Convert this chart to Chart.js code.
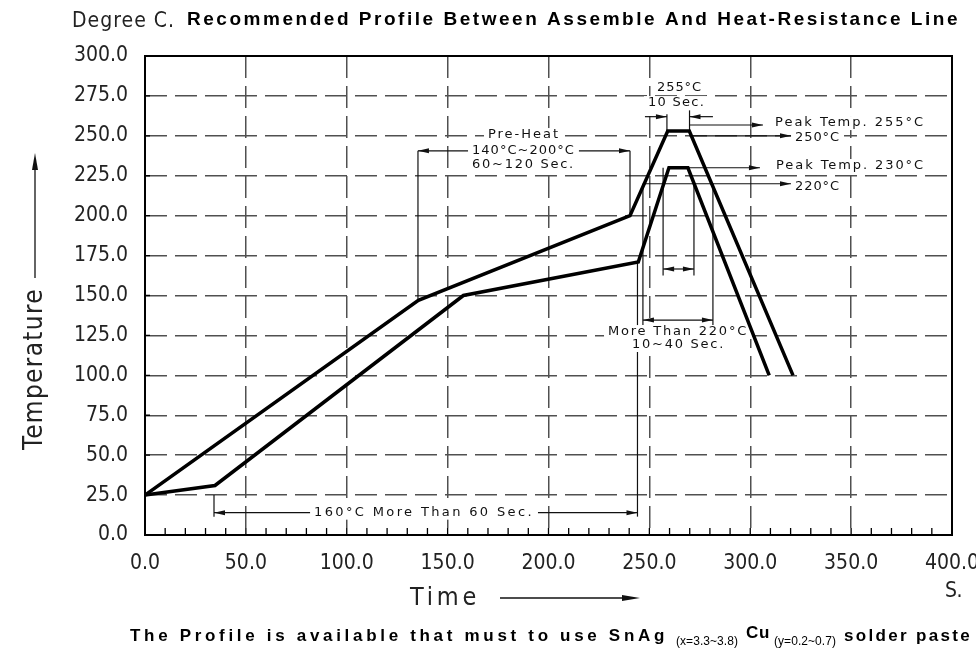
<!DOCTYPE html>
<html lang="en">
<head>
<meta charset="UTF-8">
<title>Recommended Reflow Profile</title>
<style>
    body { margin: 0; background: #fff; }
    #wrap { width: 976px; height: 650px; }
</style>
</head>
<body>
<div id="wrap"><canvas id="profileChart" width="976" height="650"></canvas></div>

<script src="https://cdn.jsdelivr.net/npm/chart.js"></script>
<script>
    // curve data (seconds, degrees C)
    const upperTime = [0, 135.5, 240.4, 259.1, 269.8, 321.2];
    const upperTemp = [25, 147, 200, 253, 253, 100];
    const lowerTime = [0, 34.7, 157.8, 244.5, 259.7, 269.1, 309.4];
    const lowerTemp = [25, 31, 150, 171, 230, 230, 100];

    const timeTicks = [0, 50, 100, 150, 200, 250, 300, 350, 400];
    const timeTickLabels = ['0.0', '50.0', '100.0', '150.0', '200.0', '250.0', '300.0', '350.0', '400.0'];
    const tempTicks = [0, 25, 50, 75, 100, 125, 150, 175, 200, 225, 250, 275, 300];
    const tempTickLabels = ['0.0', '25.0', '50.0', '75.0', '100.0', '125.0', '150.0', '175.0',
        '200.0', '225.0', '250.0', '275.0', '300.0'];

    // thin bracket lines [x1, y1, x2, y2] in data units
    const leaderLines = [
        [135.3, 147, 135.3, 240.6], [240.4, 200, 240.4, 240.6],
        [34.2, 25, 34.2, 11.5], [244.1, 171, 244.1, 11.5],
        [258.7, 253, 258.7, 263.5], [269.9, 253, 269.9, 266],
        [256.8, 230, 256.8, 162.5], [272.1, 220, 272.1, 162.5],
        [246.8, 220, 246.8, 131.5], [281.5, 220, 281.5, 131.5]
    ];
    // dimension arrows [from, to, temp, heads]
    const arrowLines = [
        [135.3, 240.4, 240.6, 'both'],
        [34.2, 244.1, 14, 'both'],
        [246.8, 281.5, 134.6, 'both'],
        [256.8, 272.1, 166.6, 'both'],
        [247.8, 258.7, 262, 'end'],
        [281.5, 269.9, 262, 'end'],
        [269.9, 306.3, 256.8, 'end'],
        [269.9, 320.2, 250, 'end'],
        [269.1, 304.8, 230, 'end'],
        [246.8, 320.2, 220, 'end']
    ];
    // notes [text, left, right, temp]
    const notes = [
        ['Pre-Heat', 170.0, 205.7, 250.5],
        ['140°C~200°C', 162.1, 213.1, 240.6],
        ['60~120 Sec.', 162.1, 213.1, 231.7],
        ['255°C', 253.8, 276.1, 279.9],
        ['10 Sec.', 249.3, 277.6, 270.5],
        ['Peak Temp. 255°C', 312.3, 386.6, 258.0],
        ['250°C', 322.2, 344.5, 248.6],
        ['Peak Temp. 230°C', 312.8, 386.6, 231.1],
        ['220°C', 322.2, 344.5, 218.5],
        ['More Than 220°C', 229.5, 298.9, 127.1],
        ['10~40 Sec.', 241.4, 287.5, 119.0],
        ['160°C More Than 60 Sec.', 83.8, 192.8, 14]
    ];

    const condensed = '"DejaVu Sans Condensed", "Liberation Sans Narrow", sans-serif';

    // draw text spread to a given width
    function fitText(ctx, str, x, y, w, font) {
        ctx.font = font;
        ctx.letterSpacing = '0px';
        const m = ctx.measureText(str).width;
        ctx.letterSpacing = ((w - m) / str.length) + 'px';
        ctx.textAlign = 'left';
        ctx.textBaseline = 'middle';
        ctx.fillText(str, x, y);
        ctx.letterSpacing = '0px';
    }

    function arrowHead(ctx, x, y, dir, len, half) {
        ctx.beginPath();
        ctx.moveTo(x, y);
        ctx.lineTo(x - dir * len, y - half);
        ctx.lineTo(x - dir * len, y + half);
        ctx.closePath();
        ctx.fill();
    }

    const drawingPlugin = {
        id: 'drawing',
        beforeDatasetsDraw(chart) {
            const ctx = chart.ctx;
            const X = v => chart.scales.x.getPixelForValue(v);
            const Y = v => chart.scales.y.getPixelForValue(v);
            ctx.save();
            ctx.strokeStyle = '#111';
            ctx.fillStyle = '#111';
            ctx.lineWidth = 1.2;
            leaderLines.forEach(([x1, y1, x2, y2]) => {
                ctx.beginPath();
                ctx.moveTo(X(x1), Y(y1));
                ctx.lineTo(X(x2), Y(y2));
                ctx.stroke();
            });
            arrowLines.forEach(([a, b, t, heads]) => {
                const xa = X(a), xb = X(b), yy = Y(t);
                ctx.beginPath();
                ctx.moveTo(xa, yy);
                ctx.lineTo(xb, yy);
                ctx.stroke();
                arrowHead(ctx, xb, yy, Math.sign(xb - xa), 11, 2.5);
                if (heads === 'both') arrowHead(ctx, xa, yy, Math.sign(xa - xb), 11, 2.5);
            });
            notes.forEach(([txt, l, r, t]) => {
                const xl = X(l), xr = X(r), yc = Y(t);
                ctx.fillStyle = '#fff';
                ctx.fillRect(xl - 4, yc - 7, xr - xl + 8, 14);
                ctx.fillStyle = '#111';
                fitText(ctx, txt, xl, yc, xr - xl, '13px "DejaVu Sans", sans-serif');
            });
            ctx.restore();
        },
        afterDraw(chart) {
            const ctx = chart.ctx;
            const a = chart.chartArea;
            const X = v => chart.scales.x.getPixelForValue(v);
            const Y = v => chart.scales.y.getPixelForValue(v);
            ctx.save();
            // frame
            ctx.strokeStyle = '#000';
            ctx.lineWidth = 2;
            ctx.strokeRect(a.left, a.top, a.right - a.left, a.bottom - a.top);
            // minor ticks
            ctx.lineWidth = 1.3;
            ctx.beginPath();
            for (let t = 10; t < 400; t += 10) {
                ctx.moveTo(X(t), a.bottom);
                ctx.lineTo(X(t), a.bottom - 7);
            }
            tempTicks.forEach(v => {
                ctx.moveTo(a.left, Y(v));
                ctx.lineTo(a.left + 5, Y(v));
            });
            ctx.stroke();

            ctx.fillStyle = '#222';
            fitText(ctx, 'Degree C.', 72, 22, 103, '21px ' + condensed);
            ctx.fillStyle = '#000';
            fitText(ctx, 'Recommended Profile Between Assemble And Heat-Resistance Line', 187, 20, 773,
                'bold 19px "Liberation Sans", Arial, sans-serif');

            // y axis title + arrow
            ctx.save();
            ctx.translate(35, 450);
            ctx.rotate(-Math.PI / 2);
            ctx.fillStyle = '#222';
            fitText(ctx, 'Temperature', 0, 0, 162, '26px ' + condensed);
            ctx.restore();
            ctx.strokeStyle = '#111';
            ctx.lineWidth = 1.3;
            ctx.beginPath();
            ctx.moveTo(35, 278);
            ctx.lineTo(35, 160);
            ctx.stroke();
            ctx.fillStyle = '#111';
            ctx.beginPath();
            ctx.moveTo(35, 153);
            ctx.lineTo(32, 170);
            ctx.lineTo(38, 170);
            ctx.closePath();
            ctx.fill();

            // x axis title + arrow
            ctx.fillStyle = '#222';
            fitText(ctx, 'Time', 410, 598, 70, '25px ' + condensed);
            ctx.beginPath();
            ctx.moveTo(500, 598);
            ctx.lineTo(630, 598);
            ctx.stroke();
            ctx.fillStyle = '#111';
            arrowHead(ctx, 640, 598, 1, 18, 3);
            ctx.fillStyle = '#222';
            fitText(ctx, 'S.', 945, 592, 17, '21px ' + condensed);

            // footnote
            ctx.fillStyle = '#000';
            const bold = 'bold 17px "Liberation Sans", Arial, sans-serif';
            const small = '12px "Liberation Sans", Arial, sans-serif';
            fitText(ctx, 'The Profile is available that must to use SnAg', 130, 636, 538, bold);
            fitText(ctx, '(x=3.3~3.8)', 676, 642, 62, small);
            fitText(ctx, 'Cu', 746, 633, 24, bold);
            fitText(ctx, '(y=0.2~0.7)', 774, 642, 62, small);
            fitText(ctx, 'solder paste', 844, 636, 128, bold);
            ctx.restore();
        }
    };

    const tickFont = { family: condensed, size: 21 };

    new Chart(document.getElementById('profileChart'), {
        type: 'scatter',
        data: {
            datasets: [
                {
                    label: 'Heat-Resistance Line',
                    data: upperTime.map((t, i) => ({ x: t, y: upperTemp[i] })),
                    showLine: true,
                    borderColor: '#000',
                    borderWidth: 3.5,
                    pointRadius: 0,
                    tension: 0
                },
                {
                    label: 'Assemble',
                    data: lowerTime.map((t, i) => ({ x: t, y: lowerTemp[i] })),
                    showLine: true,
                    borderColor: '#000',
                    borderWidth: 3.5,
                    pointRadius: 0,
                    tension: 0
                }
            ]
        },
        options: {
            responsive: false,
            animation: false,
            layout: { padding: { top: 56, right: 24, left: 0, bottom: 0 } },
            plugins: { legend: { display: false }, tooltip: { enabled: false } },
            scales: {
                x: {
                    type: 'linear',
                    min: 0,
                    max: 400,
                    afterBuildTicks: s => { s.ticks = timeTicks.map(v => ({ value: v })); },
                    afterFit: s => { s.height = 115; s.paddingLeft = 0; s.paddingRight = 0; },
                    ticks: {
                        padding: 16,
                        color: '#222',
                        font: tickFont,
                        maxRotation: 0,
                        autoSkip: false,
                        callback: (v, i) => timeTickLabels[i]
                    },
                    grid: { color: '#505050', lineWidth: 1.5, drawTicks: false },
                    border: { display: false, dash: [22, 8] }
                },
                y: {
                    type: 'linear',
                    min: 0,
                    max: 300,
                    afterBuildTicks: s => { s.ticks = tempTicks.map(v => ({ value: v })); },
                    afterFit: s => { s.width = 145; s.paddingTop = 0; s.paddingBottom = 0; },
                    ticks: {
                        padding: 17,
                        color: '#222',
                        font: tickFont,
                        autoSkip: false,
                        callback: (v, i) => tempTickLabels[i]
                    },
                    grid: { color: '#505050', lineWidth: 1.5, drawTicks: false },
                    border: { display: false, dash: [22, 8] }
                }
            }
        },
        plugins: [drawingPlugin]
    });
</script>
</body>
</html>
